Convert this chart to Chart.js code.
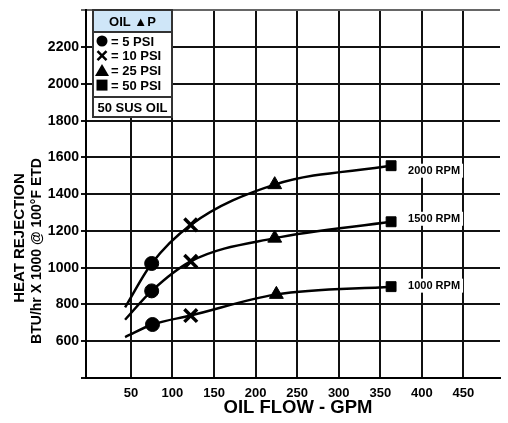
<!DOCTYPE html>
<html>
<head>
<meta charset="utf-8">
<script src="https://cdn.jsdelivr.net/npm/chart.js"></script>
<style>
  body { margin: 0; background: #fff; }
  canvas { display: block; }
</style>
</head>
<body>
<canvas id="myChart" width="508" height="423"></canvas>
<script>
// data (oil flow in GPM, heat rejection in BTU/hr x 1000)
const flow2000 = [43, 75, 122, 223, 363];
const heat2000 = [784, 1023, 1233, 1452, 1555];
const flow1500 = [43, 75, 122, 223, 363];
const heat1500 = [717, 874, 1035, 1161, 1250];
const flow1000 = [43, 76, 122, 225, 363];
const heat1000 = [623, 691, 740, 855, 897];

const rpmLabels = ['2000 RPM', '1500 RPM', '1000 RPM'];
const xTickValues = [50, 100, 150, 200, 250, 300, 350, 400, 450];
const yTickValues = [400, 600, 800, 1000, 1200, 1400, 1600, 1800, 2000, 2200, 2400];
const legendRows = ['= 5 PSI', '= 10 PSI', '= 25 PSI', '= 50 PSI'];

const FONT = '"Liberation Sans", Arial, sans-serif';
const markerStyles = ['circle', 'circle', 'crossRot', 'triangle', 'rect'];
const markerRadius = [0, 7, 9, 8, 7];

function toPoints(xs, ys) {
    let pts = [];
    for (let i = 0; i < xs.length; i++) {
        pts.push({x: xs[i], y: ys[i]});
    }
    return pts;
}

function curve(label, xs, ys) {
    return {
        label: label,
        data: toPoints(xs, ys),
        borderColor: '#000',
        backgroundColor: '#000',
        borderWidth: 2.5,
        cubicInterpolationMode: 'monotone',
        pointStyle: markerStyles,
        pointRadius: markerRadius,
        pointBorderWidth: [0, 1, 3.5, 1, 1],
        pointBorderColor: '#000',
        pointBackgroundColor: '#000'
    };
}

function drawMarker(ctx, type, x, y) {
    ctx.fillStyle = '#000';
    ctx.strokeStyle = '#000';
    ctx.beginPath();
    if (type == 0) {
        ctx.arc(x, y, 5.5, 0, Math.PI * 2);
        ctx.fill();
    } else if (type == 1) {
        ctx.lineWidth = 2.5;
        ctx.moveTo(x - 4.5, y - 4.5); ctx.lineTo(x + 4.5, y + 4.5);
        ctx.moveTo(x + 4.5, y - 4.5); ctx.lineTo(x - 4.5, y + 4.5);
        ctx.stroke();
    } else if (type == 2) {
        ctx.moveTo(x, y - 6.5); ctx.lineTo(x + 7, y + 5.5); ctx.lineTo(x - 7, y + 5.5);
        ctx.closePath();
        ctx.fill();
    } else {
        ctx.rect(x - 5.5, y - 5.5, 11, 11);
        ctx.fill();
    }
}

const overlay = {
    id: 'overlay',
    afterDraw(chart) {
        const ctx = chart.ctx;
        const xs = chart.scales.x, ys = chart.scales.y;
        ctx.save();

        // curve labels next to the last point
        const dy = [5, -3, -1];
        ctx.font = 'bold 11px ' + FONT;
        ctx.textBaseline = 'middle';
        ctx.textAlign = 'left';
        chart.data.datasets.forEach(function (ds, i) {
            let last = ds.data[ds.data.length - 1];
            let px = xs.getPixelForValue(last.x) + 17;
            let py = ys.getPixelForValue(last.y) + dy[i];
            let w = ctx.measureText(rpmLabels[i]).width;
            ctx.fillStyle = '#fff';
            ctx.fillRect(px - 3, py - 7, w + 6, 14);
            ctx.fillStyle = '#000';
            ctx.fillText(rpmLabels[i], px, py);
        });

        // legend box
        let bx = 93, by = 10, bw = 79, bh = 107;
        ctx.fillStyle = '#fff';
        ctx.fillRect(bx, by, bw, bh);
        ctx.fillStyle = '#cfe6f8';
        ctx.fillRect(bx, by, bw, 22);
        ctx.strokeStyle = '#333';
        ctx.lineWidth = 2;
        ctx.strokeRect(bx, by, bw, bh);
        ctx.beginPath();
        ctx.moveTo(bx, by + 22); ctx.lineTo(bx + bw, by + 22);
        ctx.moveTo(bx, by + 87); ctx.lineTo(bx + bw, by + 87);
        ctx.stroke();

        ctx.fillStyle = '#000';
        ctx.font = 'bold 13px ' + FONT;
        ctx.textAlign = 'center';
        ctx.fillText('OIL ▲P', bx + bw / 2, by + 12);
        ctx.textAlign = 'left';
        for (let i = 0; i < legendRows.length; i++) {
            let ry = by + 31 + i * 14.7;
            drawMarker(ctx, i, bx + 9, ry);
            ctx.fillStyle = '#000';
            ctx.font = 'bold 13px ' + FONT;
            ctx.fillText(legendRows[i], bx + 18, ry + 1);
        }
        ctx.font = 'bold 13px ' + FONT;
        ctx.textAlign = 'center';
        ctx.fillText('50 SUS OIL', bx + bw / 2, by + 98);

        // axis titles
        ctx.font = 'bold 18.5px ' + FONT;
        ctx.fillText('OIL FLOW - GPM', 298, 408);

        ctx.save();
        ctx.translate(20, 238);
        ctx.rotate(-Math.PI / 2);
        ctx.font = 'bold 15px ' + FONT;
        ctx.fillText('HEAT REJECTION', 0, 0);
        ctx.restore();
        ctx.save();
        ctx.translate(37, 251);
        ctx.rotate(-Math.PI / 2);
        ctx.font = 'bold 14px ' + FONT;
        ctx.fillText('BTU/hr X 1000 @ 100°F ETD', 0, 0);
        ctx.restore();

        ctx.restore();
    }
};

const ctx = document.getElementById('myChart');

new Chart(ctx, {
    type: 'line',
    data: {
        datasets: [
            curve('2000 RPM', flow2000, heat2000),
            curve('1500 RPM', flow1500, heat1500),
            curve('1000 RPM', flow1000, heat1000)
        ]
    },
    options: {
        responsive: false,
        animation: false,
        layout: { padding: { top: 5, right: 0, left: 0, bottom: 0 } },
        plugins: {
            legend: { display: false },
            tooltip: { enabled: false }
        },
        scales: {
            x: {
                type: 'linear',
                min: -4,
                max: 494,
                afterBuildTicks: function (s) { s.ticks = xTickValues.map(v => ({value: v})); },
                afterFit: function (s) { s.height = 45; },
                grid: { color: '#111', lineWidth: 2, drawTicks: false },
                border: { color: '#000', width: 2 },
                ticks: {
                    padding: 8,
                    color: '#000',
                    maxRotation: 0,
                    font: { family: FONT, size: 13, weight: 'bold' }
                }
            },
            y: {
                min: 400,
                max: 2400,
                afterBuildTicks: function (s) { s.ticks = yTickValues.map(v => ({value: v})); },
                afterFit: function (s) { s.width = 86; },
                grid: { color: (c) => c.tick && c.tick.value == 2400 ? '#666' : '#111', lineWidth: 2, drawTicks: true, tickLength: 5 },
                border: { color: '#000', width: 2 },
                ticks: {
                    padding: 2,
                    color: '#000',
                    font: { family: FONT, size: 14, weight: 'bold' },
                    callback: v => (v == 400 || v == 2400) ? '' : v
                }
            }
        }
    },
    plugins: [overlay]
});
</script>
</body>
</html>
